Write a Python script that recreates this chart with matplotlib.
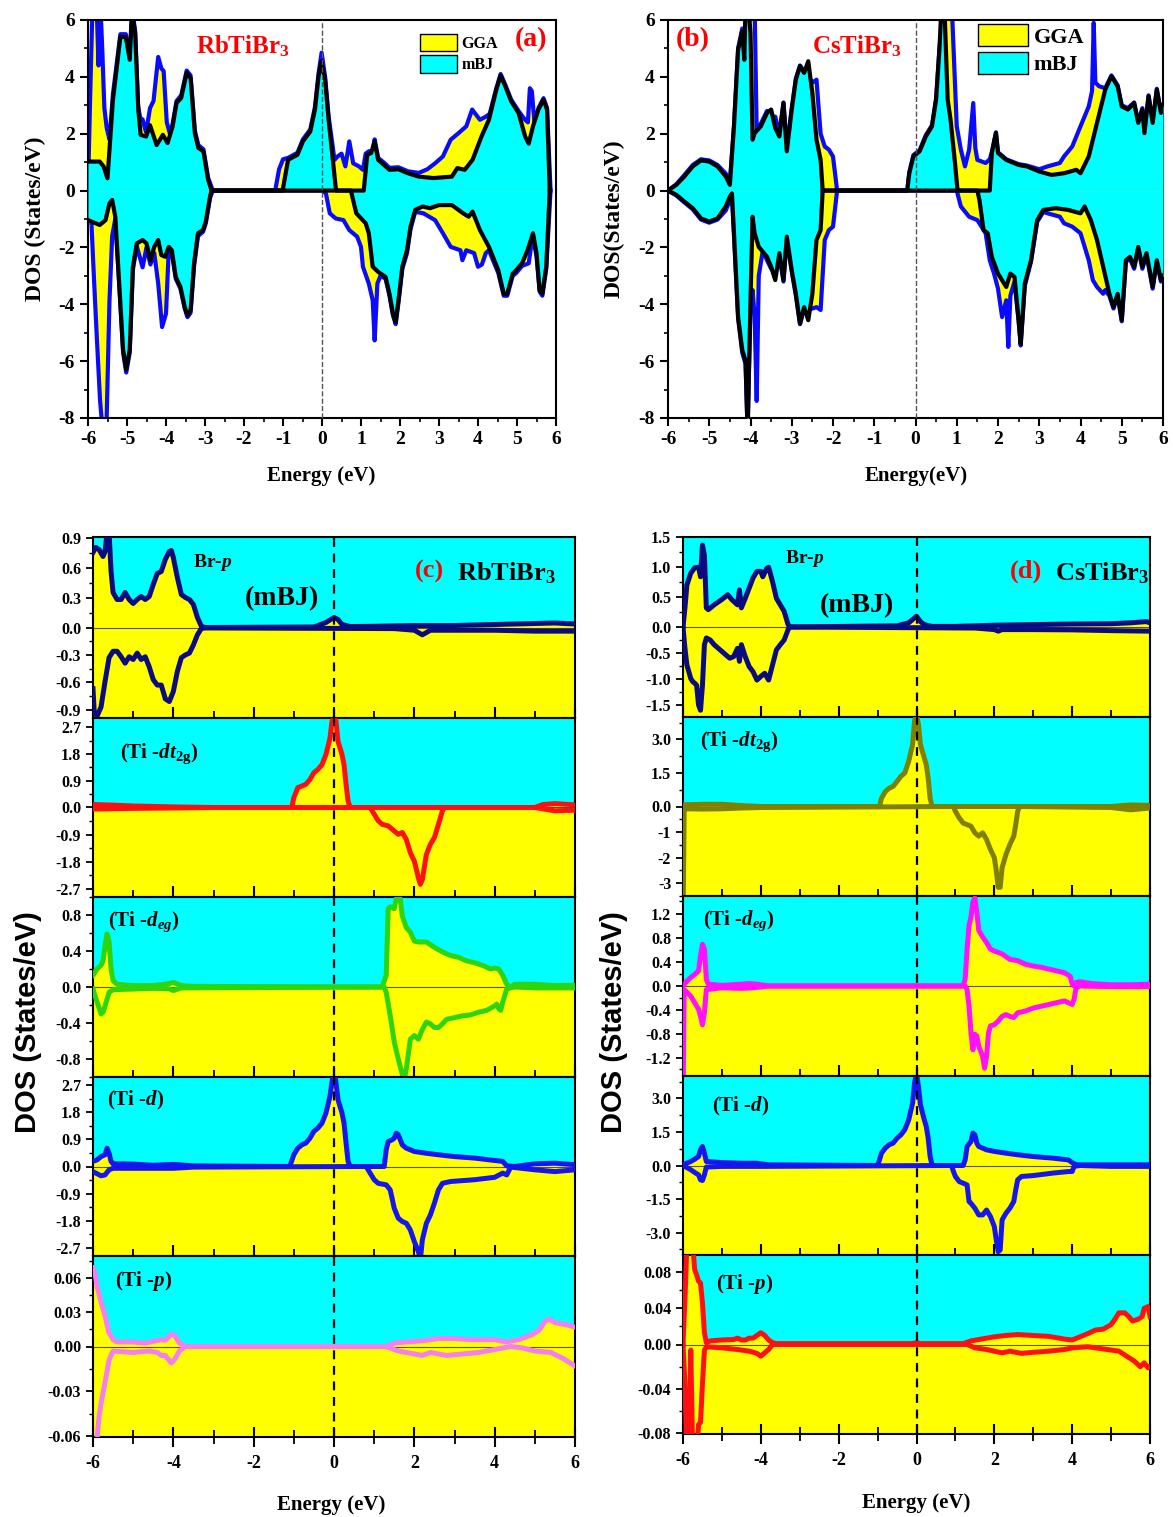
import numpy as np
import matplotlib
matplotlib.use("Agg")
import matplotlib.pyplot as plt
from matplotlib.ticker import MultipleLocator, FixedLocator, FormatStrFormatter
from matplotlib.patches import Patch

plt.rcParams["font.family"] = ["Liberation Serif", "DejaVu Serif"]
plt.rcParams["font.weight"] = "bold"
plt.rcParams["axes.unicode_minus"] = False
plt.rcParams["mathtext.fontset"] = "custom"
plt.rcParams["mathtext.rm"] = "Liberation Serif:bold"
plt.rcParams["mathtext.it"] = "Liberation Serif:italic:bold"
plt.rcParams["mathtext.bf"] = "Liberation Serif:bold"
plt.rcParams["axes.linewidth"] = 1.5

YELLOW = "#ffff00"
CYAN = "#00ffff"

# ---------------- total DOS, RbTiBr3 ----------------
a_mbj_up_x = [-6.0, -5.7, -5.6, -5.5, -5.36, -5.17, -5.03, -4.93, -4.87, -4.79, -4.71, -4.65, -4.51, -4.41, -4.24,
              -4.08, -3.96, -3.83, -3.73, -3.61, -3.47, -3.37, -3.26, -3.17, -3.04, -2.92, -2.83, -1.01, -0.87, -0.63,
              -0.49, -0.30, -0.18, -0.09, -0.02, 0.08, 0.17, 0.26, 0.36, 1.07, 1.16, 1.26, 1.35, 1.44, 1.59, 1.73, 1.96,
              2.20, 2.48, 2.86, 3.33, 3.47, 3.66, 3.86, 4.09, 4.28, 4.47, 4.58, 4.70, 4.85, 5.04, 5.21, 5.30, 5.41,
              5.55, 5.68, 5.77, 5.84]
a_mbj_up_y = [1.02, 1.02, 0.85, 0.43, 3.2, 5.4, 5.4, 4.6, 6.3, 5.5, 2.85, 1.96, 1.9, 2.3, 1.6, 1.96, 1.67, 2.26, 3.08,
              3.26, 4.14, 3.96, 2.02, 1.5, 1.38, 0.38, 0.0, 0.0, 1.08, 1.26, 1.73, 2.08, 2.85, 4.0, 4.55, 3.9, 2.49,
              1.32, 0.0, 0.0, 1.26, 1.32, 1.73, 1.08, 0.9, 0.73, 0.75, 0.61, 0.49, 0.44, 0.49, 0.79, 0.73, 1.08, 1.9,
              2.49, 3.55, 4.05, 3.67, 3.14, 2.73, 1.9, 1.65, 2.26, 2.85, 3.2, 2.85, 0.0]
a_mbj_dn_x = [-6.0, -5.7, -5.55, -5.45, -5.38, -5.3, -5.2, -5.1, -5.02, -4.93, -4.85, -4.75, -4.6, -4.5, -4.4, -4.3,
              -4.2, -4.12, -4.02, -3.93, -3.85, -3.75, -3.63, -3.52, -3.45, -3.37, -3.28, -3.18, -3.05, -2.98, -2.87,
              -2.83, 0.74, 0.88, 1.12, 1.2, 1.3, 1.44, 1.63, 1.73, 1.82, 1.89, 1.96, 2.06, 2.18, 2.27, 2.39, 2.58,
              2.77, 3.0, 3.33, 3.62, 3.76, 3.86, 4.05, 4.28, 4.52, 4.66, 4.75, 4.89, 4.98, 5.13, 5.27, 5.41, 5.5,
              5.58, 5.65, 5.75, 5.84]
a_mbj_dn_y = [-1.04, -1.21, -1.04, -0.45, -0.33, -0.92, -3.27, -5.6, -6.3, -5.6, -2.7, -1.86, -1.74, -1.86, -2.45,
              -1.98, -1.74, -2.27, -2.33, -1.98, -2.1, -3.04, -3.39, -4.09, -4.39, -4.21, -2.56, -1.5, -1.39, -1.09,
              -0.21, 0.0, 0.0, -0.8, -1.15, -1.5, -2.68, -2.86, -3.04, -3.63, -4.33, -4.62, -3.86, -2.68, -2.1, -1.27,
              -0.68, -0.56, -0.62, -0.51, -0.51, -0.8, -0.92, -0.74, -1.39, -1.98, -2.8, -3.63, -3.63, -2.92, -2.8,
              -2.56, -2.1, -1.5, -2.2, -3.5, -3.63, -2.68, 0.0]
a_gga_up_x = [-6.0, -5.95, -5.88, -5.84, -5.78, -5.73, -5.68, -5.63, -5.58, -5.52, -5.45, -5.36, -5.17, -5.03, -4.93,
              -4.87, -4.79, -4.72, -4.66, -4.6, -4.51, -4.41, -4.32, -4.2, -4.12, -4.06, -3.98, -3.9, -3.83, -3.73,
              -3.61, -3.47, -3.37, -3.26, -3.17, -3.04, -2.92, -2.8, -1.2, -1.1, -1.0, -0.87, -0.63, -0.49, -0.3,
              -0.18, -0.09, -0.01, 0.08, 0.17, 0.26, 0.32, 0.4, 0.5, 0.6, 0.7, 0.8, 0.95, 1.05, 1.12, 1.2, 1.3, 1.35,
              1.44, 1.59, 1.73, 1.96, 2.2, 2.48, 2.7, 2.9, 3.1, 3.3, 3.5, 3.7, 3.85, 3.95, 4.05, 4.2, 4.3, 4.47, 4.58,
              4.7, 4.85, 5.04, 5.2, 5.28, 5.33, 5.38, 5.45, 5.55, 5.68, 5.77, 5.86]
a_gga_up_y = [0.0, 3.0, 6.8, 7.0, 6.6, 4.4, 6.5, 4.8, 2.9, 2.2, 1.8, 3.4, 5.5, 5.5, 4.7, 6.4, 5.6, 3.0, 2.55, 2.5,
              2.05, 2.9, 3.15, 4.7, 4.3, 4.2, 2.4, 2.0, 2.35, 3.15, 3.35, 4.22, 4.05, 2.1, 1.6, 1.45, 0.45, 0.0, 0.0,
              0.75, 1.1, 1.15, 1.33, 1.8, 2.15, 2.95, 4.1, 4.85, 4.0, 2.6, 1.7, 1.08, 1.2, 1.3, 0.85, 1.73, 0.96,
              0.85, 0.73, 1.3, 1.38, 1.4, 1.8, 1.15, 0.98, 0.8, 0.82, 0.68, 0.62, 0.75, 0.96, 1.2, 1.79, 2.02, 2.26,
              2.85, 2.67, 2.49, 2.6, 2.7, 3.6, 4.1, 3.72, 3.2, 2.8, 2.5, 2.4, 3.6, 3.5, 2.35, 2.9, 3.25, 2.9, 0.0]
a_gga_dn_x = [-6.0, -5.92, -5.85, -5.78, -5.69, -5.62, -5.53, -5.45, -5.38, -5.3, -5.2, -5.1, -5.02, -4.93, -4.85,
              -4.75, -4.6, -4.5, -4.4, -4.3, -4.2, -4.1, -4.0, -3.93, -3.85, -3.75, -3.63, -3.52, -3.45, -3.37, -3.28,
              -3.18, -3.05, -2.98, -2.87, -2.8, 0.0, 0.1, 0.2, 0.35, 0.55, 0.7, 0.9, 1.0, 1.05, 1.2, 1.3, 1.35, 1.42,
              1.5, 1.63, 1.73, 1.82, 1.89, 1.96, 2.06, 2.18, 2.27, 2.39, 2.6, 2.9, 3.1, 3.3, 3.55, 3.6, 3.7, 3.9, 4.0,
              4.1, 4.2, 4.28, 4.52, 4.66, 4.75, 4.89, 4.98, 5.13, 5.3, 5.4, 5.5, 5.58, 5.65, 5.75, 5.86]
a_gga_dn_y = [-0.5, -0.9, -3.0, -5.0, -7.4, -8.5, -8.5, -3.9, -1.6, -1.0, -3.3, -5.7, -6.4, -5.7, -2.8, -1.95, -2.7,
              -2.0, -2.6, -2.2, -3.27, -4.8, -4.33, -2.1, -2.2, -3.1, -3.45, -4.15, -4.45, -4.3, -2.65, -1.6, -1.45,
              -1.15, -0.25, 0.0, 0.0, -0.1, -0.8, -0.98, -1.04, -1.39, -1.62, -1.98, -2.68, -3.27, -3.86, -5.27, -3.27,
              -3.0, -3.1, -3.7, -4.4, -4.7, -3.95, -2.75, -2.2, -1.35, -0.75, -0.8, -1.04, -1.5, -1.98, -2.1, -2.45,
              -2.1, -2.2, -2.68, -2.6, -2.2, -2.1, -2.9, -3.7, -3.7, -3.0, -2.9, -2.65, -2.56, -1.6, -2.3, -3.55,
              -3.7, -2.75, 0.0]

# ---------------- total DOS, CsTiBr3 ----------------
b_mbj_up_x = [-6.0, -5.8, -5.6, -5.4, -5.2, -5.0, -4.8, -4.6, -4.5, -4.4, -4.3, -4.2, -4.15, -4.12, -4.05, -4.0,
              -3.95, -3.9, -3.75, -3.6, -3.5, -3.4, -3.3, -3.2, -3.12, -3.0, -2.9, -2.8, -2.7, -2.6, -2.5, -2.4, -2.3,
              -2.25, -0.2, -0.15, -0.05, 0.1, 0.25, 0.4, 0.5, 0.58, 0.63, 0.7, 0.78, 0.85, 0.95, 1.02, 1.8, 1.85,
              1.95, 2.0, 2.2, 2.5, 2.7, 3.0, 3.3, 3.6, 3.9, 4.0, 4.2, 4.4, 4.6, 4.75, 4.9, 5.0, 5.15, 5.3, 5.4, 5.5,
              5.55, 5.65, 5.75, 5.85, 5.95, 6.0]
b_mbj_up_y = [0.0, 0.2, 0.5, 0.85, 1.06, 1.02, 0.85, 0.5, 0.2, 2.26, 4.96, 5.6, 4.6, 6.5, 6.5, 5.55, 1.79, 2.02, 2.26,
              2.73, 2.85, 2.2, 1.9, 3.08, 1.38, 2.85, 3.9, 4.38, 4.14, 4.55, 3.43, 1.79, 1.08, 0.0, 0.0, 0.61, 1.2,
              1.38, 1.9, 2.26, 3.2, 4.96, 6.5, 6.5, 3.2, 2.49, 1.08, 0.0, 0.0, 1.32, 2.02, 1.32, 1.08, 0.9, 0.85, 0.67,
              0.55, 0.61, 0.73, 0.61, 1.2, 2.38, 3.55, 4.02, 3.67, 2.96, 2.85, 3.08, 2.38, 2.85, 2.02, 3.32, 2.38,
              3.55, 2.73, 3.0]
b_mbj_dn_x = [-6.0, -5.8, -5.6, -5.4, -5.2, -5.0, -4.8, -4.6, -4.5, -4.45, -4.4, -4.3, -4.2, -4.12, -4.07, -4.0,
              -3.95, -3.9, -3.8, -3.6, -3.5, -3.4, -3.3, -3.2, -3.12, -3.0, -2.9, -2.8, -2.7, -2.6, -2.5, -2.4, -2.3,
              -2.25, 1.5, 1.55, 1.65, 1.75, 1.85, 2.0, 2.2, 2.3, 2.4, 2.5, 2.55, 2.65, 2.8, 2.95, 3.1, 3.4, 3.7, 4.0,
              4.1, 4.25, 4.4, 4.55, 4.7, 4.8, 4.9, 5.0, 5.1, 5.2, 5.3, 5.4, 5.5, 5.6, 5.75, 5.85, 5.95, 6.0]
b_mbj_dn_y = [0.0, -0.15, -0.39, -0.62, -0.98, -1.09, -0.98, -0.56, -0.21, -0.1, -1.5, -4.45, -5.6, -6.0, -8.5,
              -3.86, -0.92, -1.5, -1.98, -2.33, -2.68, -3.15, -2.2, -3.15, -1.62, -2.8, -3.63, -4.68, -4.1, -4.56,
              -3.63, -1.74, -1.39, 0.0, 0.0, -0.33, -1.39, -1.5, -2.33, -2.92, -3.39, -2.92, -3.04, -4.56, -5.39,
              -3.27, -2.45, -1.04, -0.68, -0.62, -0.68, -0.8, -0.56, -1.04, -1.74, -2.68, -3.63, -4.1, -3.63, -4.56,
              -2.45, -2.33, -2.68, -1.98, -2.68, -2.2, -3.39, -2.45, -3.15, -3.0]
b_gga_up_x = [-6.0, -5.8, -5.6, -5.4, -5.2, -5.0, -4.8, -4.6, -4.5, -4.4, -4.3, -4.2, -4.15, -4.1, -4.0, -3.95, -3.9,
              -3.85, -3.8, -3.6, -3.5, -3.4, -3.3, -3.2, -3.12, -3.0, -2.9, -2.8, -2.7, -2.6, -2.5, -2.4, -2.3, -2.2,
              -2.1, -2.0, -1.9, -0.2, -0.15, -0.05, 0.1, 0.25, 0.4, 0.5, 0.58, 0.7, 0.8, 0.88, 1.0, 1.1, 1.2, 1.3,
              1.4, 1.45, 1.5, 1.7, 1.8, 1.85, 1.95, 2.0, 2.2, 2.5, 2.7, 3.0, 3.2, 3.5, 3.6, 3.8, 4.0, 4.2, 4.28, 4.32,
              4.36, 4.45, 4.6, 4.75, 4.9, 5.0, 5.15, 5.3, 5.4, 5.5, 5.55, 5.65, 5.75, 5.85, 5.95, 6.0]
b_gga_up_y = [0.0, 0.22, 0.55, 0.9, 1.1, 1.06, 0.9, 0.6, 0.3, 2.3, 5.0, 5.7, 4.7, 6.5, 6.5, 6.5, 6.5, 2.1, 2.2, 2.8,
              2.6, 2.6, 2.0, 3.1, 1.5, 2.9, 3.95, 4.4, 4.2, 4.0, 3.8, 3.9, 2.0, 1.55, 1.44, 1.2, 0.0, 0.0, 0.65, 1.25,
              1.42, 1.95, 2.3, 3.25, 5.0, 6.5, 6.5, 6.5, 2.26, 1.44, 0.85, 1.44, 3.08, 1.5, 1.08, 0.97, 1.1, 1.35,
              2.05, 1.35, 1.1, 0.93, 0.88, 0.75, 0.85, 0.97, 1.2, 1.55, 2.26, 2.96, 3.5, 5.9, 3.8, 3.67, 3.6, 4.05,
              3.7, 3.0, 2.9, 3.1, 2.4, 2.9, 2.05, 3.35, 2.4, 3.58, 2.75, 3.0]
b_gga_dn_x = [-6.0, -5.8, -5.6, -5.4, -5.2, -5.0, -4.8, -4.6, -4.5, -4.45, -4.4, -4.3, -4.2, -4.12, -4.07, -4.0,
              -3.95, -3.9, -3.85, -3.8, -3.7, -3.6, -3.5, -3.4, -3.3, -3.2, -3.12, -3.0, -2.9, -2.8, -2.7, -2.6, -2.5,
              -2.4, -2.3, -2.2, -2.1, -2.0, -1.9, 1.0, 1.1, 1.3, 1.5, 1.7, 1.8, 1.9, 2.0, 2.1, 2.2, 2.25, 2.3, 2.4,
              2.5, 2.55, 2.65, 2.8, 2.95, 3.1, 3.2, 3.5, 3.6, 3.8, 4.0, 4.2, 4.3, 4.4, 4.55, 4.6, 4.7, 4.8, 4.9, 5.0,
              5.1, 5.2, 5.3, 5.4, 5.5, 5.6, 5.75, 5.85, 5.95, 6.0]
b_gga_dn_y = [0.0, -0.17, -0.42, -0.66, -1.02, -1.13, -1.02, -0.7, -0.35, -0.2, -1.6, -4.5, -5.7, -6.1, -8.5, -4.0,
              -3.5, -4.4, -7.4, -3.0, -2.1, -2.45, -2.75, -2.9, -2.3, -3.2, -1.7, -2.85, -3.7, -4.7, -4.15, -4.2,
              -4.15, -4.1, -4.2, -1.74, -1.39, -1.27, 0.0, 0.0, -0.56, -0.92, -1.04, -1.5, -2.45, -2.9, -3.45, -4.45,
              -3.86, -5.5, -3.7, -3.2, -4.6, -5.45, -3.35, -2.5, -1.1, -0.75, -0.8, -0.92, -1.15, -1.27, -1.5, -2.45,
              -3.15, -3.39, -3.63, -3.5, -3.7, -4.15, -3.7, -4.6, -2.5, -2.4, -2.75, -2.05, -2.75, -2.25, -3.45,
              -2.5, -3.2, -3.05]

# ---------------- partial DOS (mBJ), RbTiBr3 ----------------
c_brp_up_x = [-6.0, -5.93, -5.85, -5.75, -5.7, -5.65, -5.6, -5.55, -5.5, -5.4, -5.3, -5.2, -5.1, -5.0, -4.9, -4.8,
              -4.7, -4.6, -4.5, -4.4, -4.3, -4.2, -4.1, -4.05, -4.0, -3.9, -3.8, -3.7, -3.6, -3.5, -3.4, -3.3, -3.2,
              -0.5, -0.2, 0.0, 0.1, 0.2, 0.4, 1.0, 2.0, 3.0, 4.0, 5.0, 5.5, 6.0]
c_brp_up_y = [0.75, 0.8, 0.78, 0.71, 0.76, 0.95, 0.95, 0.56, 0.35, 0.28, 0.28, 0.35, 0.28, 0.24, 0.28, 0.31, 0.28,
              0.31, 0.43, 0.54, 0.56, 0.68, 0.76, 0.77, 0.7, 0.5, 0.33, 0.3, 0.28, 0.23, 0.1, 0.01, 0.0, 0.005, 0.05,
              0.1, 0.08, 0.03, 0.01, 0.012, 0.02, 0.02, 0.03, 0.04, 0.045, 0.035]
c_brp_dn_x = [-6.0, -5.97, -5.9, -5.8, -5.7, -5.6, -5.5, -5.4, -5.3, -5.2, -5.1, -5.0, -4.9, -4.8, -4.7, -4.6, -4.5,
              -4.4, -4.3, -4.2, -4.1, -4.0, -3.9, -3.8, -3.7, -3.6, -3.5, -3.4, -3.3, -3.2, 1.5, 2.0, 2.2, 2.4, 3.0,
              4.0, 5.0, 6.0]
c_brp_dn_y = [-0.67, -0.92, -0.97, -0.87, -0.59, -0.33, -0.26, -0.26, -0.32, -0.39, -0.32, -0.35, -0.28, -0.35,
              -0.32, -0.43, -0.57, -0.63, -0.63, -0.78, -0.81, -0.7, -0.48, -0.33, -0.3, -0.28, -0.19, -0.08, -0.01,
              -0.005, -0.012, -0.03, -0.08, -0.03, -0.03, -0.03, -0.04, -0.04]
c_t2g_up_x = [-6.0, -5.5, -5.0, -4.0, -3.0, -1.05, -1.0, -0.9, -0.8, -0.7, -0.6, -0.5, -0.4, -0.3, -0.2, -0.1, -0.05,
              0.0, 0.05, 0.1, 0.2, 0.25, 0.3, 0.35, 0.4, 5.0, 5.2, 5.5, 6.0]
c_t2g_up_y = [0.1, 0.08, 0.05, 0.02, 0.0, 0.0, 0.33, 0.67, 0.72, 0.78, 0.94, 1.17, 1.28, 1.44, 1.78, 2.33, 2.9, 3.05,
              2.9, 2.22, 1.78, 1.44, 0.78, 0.22, 0.0, 0.0, 0.1, 0.13, 0.09]
c_t2g_dn_x = [-6.0, -5.0, -3.0, 0.9, 1.0, 1.1, 1.2, 1.35, 1.5, 1.6, 1.7, 1.8, 1.9, 2.0, 2.1, 2.15, 2.2, 2.3, 2.4, 2.5,
              2.6, 2.7, 2.75, 5.0, 5.5, 6.0]
c_t2g_dn_y = [-0.05, -0.03, 0.0, 0.0, -0.22, -0.44, -0.56, -0.61, -0.78, -0.89, -0.83, -1.06, -1.5, -1.78, -2.33,
              -2.55, -2.39, -1.56, -1.22, -1.0, -0.56, -0.11, 0.0, 0.0, -0.11, -0.09]
c_eg_up_x = [-6.0, -5.9, -5.8, -5.75, -5.7, -5.65, -5.6, -5.55, -5.5, -5.4, -5.0, -4.5, -4.2, -4.0, -3.8, -3.5, 1.2,
             1.3, 1.35, 1.4, 1.5, 1.55, 1.6, 1.65, 1.7, 1.8, 1.9, 2.0, 2.1, 2.3, 2.5, 2.7, 2.9, 3.1, 3.3, 3.5, 3.7,
             3.9, 4.0, 4.1, 4.2, 4.3, 4.4, 4.5, 5.0, 5.5, 6.0]
c_eg_up_y = [0.13, 0.2, 0.24, 0.29, 0.46, 0.59, 0.5, 0.2, 0.07, 0.03, 0.015, 0.015, 0.03, 0.05, 0.015, 0.007, 0.0,
             0.13, 0.87, 0.89, 0.87, 0.98, 1.02, 0.98, 0.79, 0.66, 0.61, 0.51, 0.5, 0.5, 0.44, 0.39, 0.35, 0.33, 0.29,
             0.27, 0.24, 0.2, 0.21, 0.2, 0.13, 0.03, 0.0, 0.03, 0.03, 0.015, 0.02]
c_eg_dn_x = [-6.0, -5.95, -5.85, -5.8, -5.75, -5.7, -5.6, -5.5, -4.5, -4.1, -4.0, -3.8, 1.25, 1.3, 1.4, 1.5, 1.6, 1.7,
             1.75, 1.8, 1.9, 2.0, 2.1, 2.2, 2.3, 2.4, 2.5, 2.6, 2.7, 2.8, 3.0, 3.2, 3.4, 3.6, 3.8, 4.0, 4.05, 4.1,
             4.15, 4.2, 4.3, 4.5, 5.0, 6.0]
c_eg_dn_y = [-0.02, -0.1, -0.23, -0.3, -0.28, -0.21, -0.06, -0.03, -0.015, -0.02, -0.04, -0.01, 0.0, -0.06, -0.32,
             -0.61, -0.8, -0.97, -1.02, -0.91, -0.58, -0.54, -0.58, -0.47, -0.39, -0.41, -0.45, -0.45, -0.41, -0.36,
             -0.34, -0.32, -0.31, -0.28, -0.26, -0.21, -0.19, -0.24, -0.26, -0.17, -0.02, 0.0, -0.01, -0.01]
c_d_up_x = [-6.0, -5.9, -5.8, -5.7, -5.65, -5.6, -5.55, -5.5, -5.0, -4.5, -4.0, -3.5, -1.1, -1.0, -0.9, -0.8, -0.7,
            -0.6, -0.5, -0.4, -0.3, -0.2, -0.1, -0.03, 0.03, 0.1, 0.2, 0.25, 0.3, 0.35, 0.4, 1.25, 1.3, 1.35, 1.45,
            1.5, 1.55, 1.6, 1.7, 1.8, 2.0, 2.3, 2.6, 3.0, 3.5, 4.0, 4.2, 4.3, 4.5, 5.0, 5.5, 6.0]
c_d_up_y = [0.17, 0.22, 0.33, 0.39, 0.61, 0.44, 0.17, 0.09, 0.08, 0.04, 0.07, 0.02, 0.0, 0.39, 0.61, 0.72, 0.78,
            0.94, 1.17, 1.28, 1.44, 1.78, 2.33, 3.0, 3.0, 2.22, 1.78, 1.44, 0.78, 0.17, 0.0, 0.0, 0.56, 0.83, 0.89,
            0.94, 1.11, 1.06, 0.72, 0.61, 0.5, 0.44, 0.39, 0.33, 0.28, 0.2, 0.17, 0.02, 0.0, 0.09, 0.11, 0.06]
c_d_dn_x = [-6.0, -5.8, -5.7, -5.6, -5.5, -4.0, -3.5, 0.8, 0.9, 1.0, 1.1, 1.3, 1.4, 1.5, 1.6, 1.7, 1.8, 1.9, 2.0,
            2.1, 2.15, 2.2, 2.3, 2.4, 2.5, 2.6, 2.7, 2.9, 3.5, 4.0, 4.2, 4.3, 4.4, 5.0, 5.5, 6.0]
c_d_dn_y = [-0.17, -0.31, -0.28, -0.11, -0.06, -0.06, -0.02, 0.0, -0.22, -0.44, -0.56, -0.61, -0.78, -1.39, -1.72,
            -1.83, -1.89, -2.11, -2.5, -2.83, -3.1, -2.44, -1.89, -1.61, -1.22, -0.78, -0.56, -0.5, -0.44, -0.36,
            -0.22, -0.28, -0.02, -0.11, -0.17, -0.11]
c_p_up_x = [-6.0, -5.95, -5.9, -5.8, -5.7, -5.65, -5.6, -5.5, -5.4, -5.0, -4.7, -4.5, -4.3, -4.2, -4.05, -3.95,
            -3.85, -3.7, 1.3, 1.5, 1.8, 2.2, 2.6, 3.0, 3.4, 3.8, 4.0, 4.3, 4.6, 4.9, 5.1, 5.25, 5.35, 5.5, 5.8, 6.0]
c_p_up_y = [0.069, 0.065, 0.053, 0.039, 0.027, 0.019, 0.012, 0.006, 0.004, 0.004, 0.003, 0.0045, 0.006, 0.0055,
            0.011, 0.009, 0.003, 0.0, 0.0, 0.003, 0.004, 0.005, 0.007, 0.007, 0.006, 0.006, 0.006, 0.004, 0.006,
            0.01, 0.014, 0.022, 0.024, 0.021, 0.019, 0.017]
c_p_dn_x = [-6.0, -5.95, -5.9, -5.85, -5.8, -5.7, -5.6, -5.5, -5.0, -4.6, -4.4, -4.3, -4.2, -4.05, -3.95, -3.85, -3.7,
            1.3, 1.6, 2.0, 2.2, 2.4, 2.8, 3.2, 3.6, 4.0, 4.4, 4.7, 5.0, 5.4, 5.7, 6.0]
c_p_dn_y = [-0.08, -0.065, -0.062, -0.047, -0.038, -0.024, -0.009, -0.003, -0.004, -0.003, -0.004, -0.006, -0.006,
            -0.011, -0.008, -0.003, 0.0, 0.0, -0.003, -0.005, -0.006, -0.004, -0.006, -0.005, -0.004, -0.002, 0.0,
            -0.001, -0.003, -0.004, -0.008, -0.013]

# ---------------- partial DOS (mBJ), CsTiBr3 ----------------
d_brp_up_x = [-6.0, -5.95, -5.9, -5.8, -5.7, -5.6, -5.55, -5.5, -5.45, -5.4, -5.35, -5.2, -5.0, -4.85, -4.75, -4.6,
              -4.55, -4.5, -4.4, -4.3, -4.2, -4.1, -4.0, -3.95, -3.85, -3.8, -3.7, -3.6, -3.5, -3.4, -3.3, -3.25,
              -0.5, -0.2, 0.0, 0.1, 0.2, 0.4, 1.0, 2.0, 3.0, 4.0, 5.0, 5.5, 5.9, 6.0]
d_brp_up_y = [0.0, 0.32, 0.7, 0.9, 0.99, 1.0, 0.84, 1.37, 1.2, 0.32, 0.29, 0.37, 0.46, 0.54, 0.46, 0.37, 0.62, 0.32,
              0.48, 0.65, 0.82, 0.93, 0.93, 0.84, 0.98, 1.0, 0.76, 0.48, 0.37, 0.26, 0.04, 0.0, 0.02, 0.07, 0.18,
              0.09, 0.04, 0.01, 0.01, 0.03, 0.04, 0.05, 0.055, 0.07, 0.09, 0.07]
d_brp_dn_x = [-6.0, -5.95, -5.9, -5.8, -5.75, -5.7, -5.65, -5.6, -5.55, -5.5, -5.45, -5.4, -5.3, -5.2, -5.0, -4.8,
              -4.7, -4.6, -4.55, -4.5, -4.4, -4.3, -4.2, -4.1, -4.0, -3.9, -3.8, -3.7, -3.6, -3.5, -3.4, -3.3, -3.25,
              1.5, 2.0, 2.1, 2.2, 3.0, 4.0, 5.0, 6.0]
d_brp_dn_y = [0.0, -0.41, -0.73, -0.99, -1.05, -1.08, -1.12, -1.5, -1.6, -1.12, -0.34, -0.21, -0.25, -0.34, -0.47,
              -0.6, -0.57, -0.41, -0.66, -0.34, -0.57, -0.76, -0.86, -1.02, -0.95, -0.89, -1.02, -0.73, -0.44, -0.34,
              -0.25, -0.05, 0.0, -0.02, -0.05, -0.08, -0.05, -0.05, -0.055, -0.07, -0.08]
d_t2g_up_x = [-6.0, -5.5, -5.0, -4.5, -4.0, -0.95, -0.9, -0.8, -0.7, -0.6, -0.5, -0.4, -0.3, -0.2, -0.1, -0.05, 0.0,
              0.05, 0.1, 0.2, 0.25, 0.3, 0.35, 0.4, 5.0, 5.5, 6.0]
d_t2g_up_y = [0.07, 0.1, 0.1, 0.04, 0.0, 0.0, 0.37, 0.67, 0.82, 0.9, 1.12, 1.35, 1.5, 2.02, 2.77, 3.82, 4.1, 3.67,
              2.77, 2.17, 1.87, 1.27, 0.37, 0.0, 0.0, 0.07, 0.05]
d_t2g_dn_x = [-6.0, -5.97, -5.9, -5.5, -5.0, -4.5, -4.0, 0.95, 1.0, 1.1, 1.2, 1.3, 1.4, 1.5, 1.6, 1.7, 1.8, 1.9,
              2.0, 2.05, 2.1, 2.15, 2.2, 2.3, 2.4, 2.5, 2.55, 2.6, 2.65, 5.0, 5.5, 6.0]
d_t2g_dn_y = [-5.0, -0.09, -0.09, -0.1, -0.09, -0.06, -0.04, 0.0, -0.19, -0.45, -0.65, -0.71, -0.77, -1.03, -1.16,
              -1.03, -1.29, -1.68, -2.0, -2.52, -3.16, -3.16, -2.39, -1.87, -1.48, -1.16, -0.71, -0.19, 0.0, -0.04,
              -0.13, -0.06]
d_eg_up_x = [-6.0, -5.9, -5.8, -5.7, -5.6, -5.55, -5.5, -5.45, -5.4, -5.35, -5.0, -4.5, -4.3, -4.1, -3.8, 1.2, 1.25,
             1.3, 1.35, 1.4, 1.45, 1.5, 1.55, 1.6, 1.7, 1.8, 1.9, 2.0, 2.2, 2.4, 2.6, 2.8, 3.0, 3.2, 3.4, 3.6, 3.8,
             3.95, 4.0, 4.05, 4.1, 4.2, 4.5, 5.0, 5.5, 6.0]
d_eg_up_y = [0.0, 0.08, 0.14, 0.19, 0.25, 0.5, 0.69, 0.61, 0.11, 0.03, 0.01, 0.03, 0.04, 0.03, 0.0, 0.0, 0.11, 0.61,
             1.0, 1.14, 1.39, 1.46, 1.22, 0.92, 0.81, 0.72, 0.61, 0.58, 0.53, 0.44, 0.42, 0.36, 0.33, 0.31, 0.28,
             0.25, 0.22, 0.16, 0.03, 0.0, 0.06, 0.07, 0.04, 0.02, 0.02, 0.03]
d_eg_dn_x = [-6.0, -5.97, -5.8, -5.7, -5.6, -5.55, -5.5, -5.45, -5.4, -5.0, -4.5, -4.2, -3.8, 1.25, 1.3, 1.35, 1.4,
             1.45, 1.5, 1.55, 1.6, 1.7, 1.75, 1.8, 1.85, 1.9, 2.0, 2.1, 2.2, 2.3, 2.4, 2.5, 2.6, 2.8, 3.0, 3.2, 3.4,
             3.6, 3.8, 3.9, 4.0, 4.05, 4.1, 4.2, 5.0, 6.0]
d_eg_dn_y = [-2.0, -0.06, -0.17, -0.28, -0.39, -0.51, -0.65, -0.45, -0.06, -0.03, -0.04, -0.03, 0.0, 0.0, -0.06,
             -0.34, -0.79, -1.07, -0.81, -0.84, -1.01, -1.18, -1.38, -1.18, -0.79, -0.67, -0.65, -0.59, -0.51, -0.48,
             -0.51, -0.53, -0.45, -0.42, -0.37, -0.34, -0.31, -0.28, -0.25, -0.28, -0.31, -0.22, -0.03, 0.0, -0.01,
             -0.01]
d_d_up_x = [-6.0, -5.8, -5.7, -5.6, -5.55, -5.5, -5.45, -5.4, -5.0, -4.5, -4.1, -3.8, -1.0, -0.95, -0.9, -0.8, -0.7,
            -0.6, -0.5, -0.4, -0.3, -0.2, -0.1, -0.05, 0.0, 0.05, 0.1, 0.2, 0.25, 0.3, 0.35, 0.4, 1.2, 1.25, 1.3,
            1.4, 1.45, 1.5, 1.55, 1.6, 1.8, 2.0, 2.3, 2.6, 3.0, 3.5, 3.9, 4.0, 4.1, 5.0, 6.0]
d_d_up_y = [0.03, 0.18, 0.28, 0.4, 0.7, 0.85, 0.55, 0.18, 0.13, 0.1, 0.1, 0.03, 0.0, 0.25, 0.55, 0.78, 0.93, 1.0,
            1.22, 1.37, 1.6, 2.04, 2.79, 3.69, 4.1, 3.54, 2.72, 2.04, 1.75, 1.22, 0.4, 0.0, 0.0, 0.25, 0.85, 1.07,
            1.45, 1.37, 1.0, 0.85, 0.7, 0.63, 0.55, 0.48, 0.4, 0.33, 0.25, 0.13, 0.03, 0.03, 0.03]
d_d_dn_x = [-6.0, -5.8, -5.7, -5.6, -5.55, -5.5, -5.45, -5.4, -5.0, -4.0, 0.9, 0.95, 1.0, 1.1, 1.2, 1.3, 1.35, 1.4,
            1.5, 1.6, 1.7, 1.8, 1.9, 2.0, 2.05, 2.1, 2.15, 2.2, 2.3, 2.4, 2.5, 2.55, 2.6, 2.7, 3.0, 3.5, 3.9, 4.0,
            4.05, 4.2, 5.0, 6.0]
d_d_dn_y = [0.0, -0.19, -0.31, -0.42, -0.64, -0.67, -0.42, -0.07, -0.04, -0.04, 0.0, -0.27, -0.49, -0.72, -0.79,
            -0.87, -1.61, -1.69, -1.91, -2.21, -2.21, -1.99, -2.28, -2.73, -3.33, -3.85, -3.78, -2.43, -2.13, -1.91,
            -1.61, -1.09, -0.64, -0.49, -0.45, -0.34, -0.27, -0.27, -0.04, 0.0, -0.04, -0.04]
d_p_up_x = [-6.0, -5.95, -5.9, -5.8, -5.75, -5.7, -5.65, -5.6, -5.55, -5.5, -5.45, -5.4, -5.3, -5.0, -4.7, -4.6,
            -4.5, -4.4, -4.3, -4.2, -4.1, -4.0, -3.9, -3.8, -3.7, -3.6, -0.1, 0.0, 0.1, 1.2, 1.4, 1.6, 1.8, 2.0, 2.3,
            2.6, 3.0, 3.4, 3.8, 4.0, 4.2, 4.4, 4.6, 4.8, 5.0, 5.1, 5.2, 5.35, 5.45, 5.55, 5.7, 5.8, 5.85, 5.95, 6.0]
d_p_up_y = [0.0, 0.05, 0.11, 0.11, 0.11, 0.083, 0.077, 0.07, 0.068, 0.046, 0.013, 0.002, 0.004, 0.005, 0.0055,
            0.007, 0.005, 0.005, 0.007, 0.007, 0.01, 0.013, 0.01, 0.005, 0.002, 0.001, 0.001, 0.002, 0.001, 0.001,
            0.004, 0.0055, 0.007, 0.0085, 0.01, 0.011, 0.01, 0.009, 0.006, 0.005, 0.0085, 0.012, 0.016, 0.017,
            0.022, 0.028, 0.035, 0.035, 0.031, 0.026, 0.028, 0.031, 0.04, 0.042, 0.031]
d_p_dn_x = [-6.0, -5.95, -5.9, -5.85, -5.8, -5.75, -5.65, -5.6, -5.55, -5.5, -5.45, -5.4, -5.0, -4.6, -4.3, -4.1,
            -4.0, -3.9, -3.8, -3.7, 1.3, 1.5, 1.8, 2.0, 2.2, 2.4, 2.7, 3.0, 3.4, 3.8, 4.0, 4.4, 4.8, 5.0, 5.2, 5.4,
            5.6, 5.75, 5.85, 5.95, 6.0]
d_p_dn_y = [0.0, -0.035, -0.1, -0.1, -0.005, -0.1, -0.1, -0.072, -0.07, -0.035, -0.005, -0.002, -0.003, -0.0045,
            -0.006, -0.008, -0.0105, -0.0075, -0.0045, 0.0, 0.0, -0.003, -0.0045, -0.006, -0.0075, -0.006, -0.008,
            -0.007, -0.006, -0.0045, -0.003, -0.002, -0.004, -0.005, -0.006, -0.0105, -0.015, -0.02, -0.0165,
            -0.021, -0.02]

W, H = 1173, 1517
fig = plt.figure(figsize=(W / 100, H / 100), dpi=100)


def box(left, top, right, bottom):
    return [left / W, 1 - bottom / H, (right - left) / W, (bottom - top) / H]


def total_dos(ax, gga, mbj):
    for x, y in gga:
        ax.fill_between(x, 0, y, color=YELLOW, lw=0, zorder=1)
        ax.plot(x, y, color="#0a0aff", lw=3, zorder=2)
    for x, y in mbj:
        ax.fill_between(x, 0, y, color=CYAN, lw=0, zorder=3)
        ax.plot(x, y, color="black", lw=3, zorder=4)
    ax.axvline(0, color="#555555", ls="--", lw=1, zorder=5)
    ax.set_xlim(-6, 6)
    ax.set_ylim(-8, 6)
    ax.xaxis.set_major_locator(MultipleLocator(1))
    ax.xaxis.set_minor_locator(MultipleLocator(0.5))
    ax.yaxis.set_major_locator(MultipleLocator(2))
    ax.yaxis.set_minor_locator(MultipleLocator(1))
    ax.tick_params(which="major", direction="out", length=6, width=1.5, labelsize=14)
    ax.tick_params(which="minor", direction="out", length=3, width=1.2)


def legend_boxes(ax, anchor, size, hl, hh, gap):
    ax.legend(handles=[Patch(facecolor=YELLOW, edgecolor="black", lw=1, label="GGA"),
                       Patch(facecolor=CYAN, edgecolor="black", lw=1, label="mBJ")],
              loc="upper left", bbox_to_anchor=anchor, frameon=False, fontsize=size,
              handlelength=hl, handleheight=hh, handletextpad=0.25, labelspacing=gap, borderpad=0,
              borderaxespad=0)


# (a) RbTiBr3 total DOS
ax_a = fig.add_axes(box(88, 20, 556, 418))
total_dos(ax_a, [(a_gga_up_x, a_gga_up_y), (a_gga_dn_x, a_gga_dn_y)],
          [(a_mbj_up_x, a_mbj_up_y), (a_mbj_dn_x, a_mbj_dn_y)])
ax_a.text(0.331, 0.935, r"RbTiBr$_3$", color="red", fontsize=18, ha="center", va="center", transform=ax_a.transAxes)
ax_a.text(0.947, 0.95, "(a)", color="red", fontsize=20, ha="center", va="center", transform=ax_a.transAxes)
legend_boxes(ax_a, (0.709, 0.965), 11.5, 2.35, 1.3, 0.2)
fig.text(35 / W, 1 - 219 / H, "DOS (States/eV)", rotation=90, fontsize=17, ha="center", va="center")
fig.text(321 / W, 1 - 476 / H, "Energy (eV)", fontsize=15, ha="center", va="center")

# (b) CsTiBr3 total DOS
ax_b = fig.add_axes(box(668, 20, 1163, 418))
total_dos(ax_b, [(b_gga_up_x, b_gga_up_y), (b_gga_dn_x, b_gga_dn_y)],
          [(b_mbj_up_x, b_mbj_up_y), (b_mbj_dn_x, b_mbj_dn_y)])
ax_b.text(0.015, 0.95, "(b)", color="red", fontsize=20, ha="left", va="center", transform=ax_b.transAxes)
ax_b.text(0.382, 0.935, r"CsTiBr$_3$", color="red", fontsize=18, ha="center", va="center", transform=ax_b.transAxes)
legend_boxes(ax_b, (0.626, 0.99), 16, 2.25, 1.15, 0.18)
fig.text(614 / W, 1 - 219 / H, "DOS(States/eV)", rotation=90, fontsize=17, ha="center", va="center")
fig.text(916 / W, 1 - 476 / H, "Energy(eV)", fontsize=15, ha="center", va="center")


def split_scale(top, bot):
    # spin-up and spin-down halves each fill half of the panel height
    def fwd(y):
        y = np.asarray(y, dtype=float)
        return np.where(y >= 0, y / top, y / -bot)

    def inv(u):
        u = np.asarray(u, dtype=float)
        return np.where(u >= 0, u * top, u * -bot)
    return fwd, inv


def pdos(ax, up, dn, color, top, bot, ticks, fmt, last=False, labels=None):
    ax.set_yscale("function", functions=split_scale(top, bot))
    ax.set_xlim(-6, 6)
    ax.set_ylim(bot, top)
    ax.axhspan(0, top, color=CYAN, lw=0, zorder=0)
    ax.axhspan(bot, 0, color=YELLOW, lw=0, zorder=0)
    ax.fill_between(up[0], 0, up[1], color=YELLOW, lw=0, zorder=1)
    ax.axhline(0, color="#555533", lw=0.8, zorder=2)
    ax.plot(up[0], up[1], color=color, lw=3.6, zorder=3)
    ax.plot(dn[0], dn[1], color=color, lw=3.6, zorder=3)
    ax.axvline(0, color="black", ls=(0, (4, 3)), lw=1.6, zorder=4)
    ax.yaxis.set_major_locator(FixedLocator(ticks))
    step = ticks[1] - ticks[0]
    ax.yaxis.set_minor_locator(MultipleLocator(step / 2))
    if labels is None:
        ax.yaxis.set_major_formatter(FormatStrFormatter(fmt))
    else:
        ax.set_yticklabels(labels)
    ax.xaxis.set_major_locator(MultipleLocator(2))
    ax.xaxis.set_minor_locator(MultipleLocator(1))
    ax.tick_params(axis="y", which="major", direction="out", length=5, width=1.3, labelsize=11.5)
    ax.tick_params(axis="y", which="minor", direction="out", length=3, width=1.0)
    if last:
        ax.tick_params(axis="x", which="major", direction="inout", length=14, width=1.5, labelsize=13, pad=6)
        ax.tick_params(axis="x", which="minor", direction="inout", length=10, width=1.3)
    else:
        ax.tick_params(axis="x", which="major", direction="in", length=8, width=1.5, labelbottom=False)
        ax.tick_params(axis="x", which="minor", direction="in", length=5, width=1.3)


rows = [(537, 718), (718, 897), (897, 1077), (1077, 1256), (1256, 1437)]
rows_d = [(537, 717), (717, 896), (896, 1076), (1076, 1255), (1255, 1434)]

# (c) RbTiBr3 partial DOS
c_ax = [fig.add_axes(box(93, t, 575, b)) for t, b in rows]
pdos(c_ax[0], (c_brp_up_x, c_brp_up_y), (c_brp_dn_x, c_brp_dn_y), "#0b0b80", 0.905, -0.99,
     [-0.9, -0.6, -0.3, 0.0, 0.3, 0.6, 0.9], "%.1f")
pdos(c_ax[1], (c_t2g_up_x, c_t2g_up_y), (c_t2g_dn_x, c_t2g_dn_y), "#ff1010", 3.01, -2.97,
     [-2.7, -1.8, -0.9, 0.0, 0.9, 1.8, 2.7], "%.1f")
pdos(c_ax[2], (c_eg_up_x, c_eg_up_y), (c_eg_dn_x, c_eg_dn_y), "#2ed40e", 1.0, -1.0,
     [-0.8, -0.4, 0.0, 0.4, 0.8], "%.1f")
pdos(c_ax[3], (c_d_up_x, c_d_up_y), (c_d_dn_x, c_d_dn_y), "#1515ee", 2.98, -2.98,
     [-2.7, -1.8, -0.9, 0.0, 0.9, 1.8, 2.7], "%.1f")
pdos(c_ax[4], (c_p_up_x, c_p_up_y), (c_p_dn_x, c_p_dn_y), "#f57ff0", 0.0795, -0.0605,
     [-0.06, -0.03, 0.0, 0.03, 0.06], "%.2f", last=True)
c_ax[0].text(0.207, 0.86, r"Br-$\mathit{p}$", fontsize=14, ha="left", va="center", transform=c_ax[0].transAxes)
c_ax[0].text(0.315, 0.66, "(mBJ)", fontsize=20, ha="left", va="center", transform=c_ax[0].transAxes)
c_ax[0].text(0.668, 0.81, "(c)", color="red", fontsize=19, ha="left", va="center", transform=c_ax[0].transAxes)
c_ax[0].text(0.755, 0.80, r"RbTiBr$_3$", fontsize=19, ha="left", va="center", transform=c_ax[0].transAxes)
c_ax[1].text(0.056, 0.80, r"(Ti -$\mathit{dt}_{\mathrm{2g}}$)", fontsize=15, ha="left", va="center",
             transform=c_ax[1].transAxes)
c_ax[2].text(0.031, 0.86, r"(Ti -$\mathit{d}_{\mathit{eg}}$)", fontsize=15, ha="left", va="center",
             transform=c_ax[2].transAxes)
c_ax[3].text(0.029, 0.87, r"(Ti -$\mathit{d}$)", fontsize=15, ha="left", va="center", transform=c_ax[3].transAxes)
c_ax[4].text(0.046, 0.86, r"(Ti -$\mathit{p}$)", fontsize=15, ha="left", va="center", transform=c_ax[4].transAxes)

# (d) CsTiBr3 partial DOS
d_ax = [fig.add_axes(box(683, t, 1150, b)) for t, b in rows_d]
pdos(d_ax[0], (d_brp_up_x, d_brp_up_y), (d_brp_dn_x, d_brp_dn_y), "#0b0b80", 1.505, -1.73,
     [-1.5, -1.0, -0.5, 0.0, 0.5, 1.0, 1.5], "%.1f")
pdos(d_ax[1], (d_t2g_up_x, d_t2g_up_y), (d_t2g_dn_x, d_t2g_dn_y), "#808000", 4.0, -3.5,
     [-3.0, -2.0, -1.0, 0.0, 1.5, 3.0], None, labels=["-3", "-2", "-1", "0.0", "1.5", "3.0"])
pdos(d_ax[2], (d_eg_up_x, d_eg_up_y), (d_eg_dn_x, d_eg_dn_y), "#ff10ff", 1.49, -1.51,
     [-1.2, -0.8, -0.4, 0.0, 0.4, 0.8, 1.2], "%.1f")
pdos(d_ax[3], (d_d_up_x, d_d_up_y), (d_d_dn_x, d_d_dn_y), "#1515ee", 4.0, -4.0,
     [-3.0, -1.5, 0.0, 1.5, 3.0], "%.1f")
pdos(d_ax[4], (d_p_up_x, d_p_up_y), (d_p_dn_x, d_p_dn_y), "#ff1010", 0.099, -0.0805,
     [-0.08, -0.04, 0.0, 0.04, 0.08], "%.2f", last=True)
d_ax[1].yaxis.set_minor_locator(FixedLocator([-3.5, -2.5, -1.5, -0.5, 0.75, 2.25, 3.75]))
d_ax[0].text(0.218, 0.88, r"Br-$\mathit{p}$", fontsize=14, ha="left", va="center", transform=d_ax[0].transAxes)
d_ax[0].text(0.293, 0.62, "(mBJ)", fontsize=20, ha="left", va="center", transform=d_ax[0].transAxes)
d_ax[0].text(0.70, 0.81, "(d)", color="red", fontsize=19, ha="left", va="center", transform=d_ax[0].transAxes)
d_ax[0].text(0.797, 0.80, r"CsTiBr$_3$", fontsize=19, ha="left", va="center", transform=d_ax[0].transAxes)
d_ax[1].text(0.036, 0.86, r"(Ti -$\mathit{dt}_{\mathrm{2g}}$)", fontsize=15, ha="left", va="center",
             transform=d_ax[1].transAxes)
d_ax[2].text(0.043, 0.86, r"(Ti -$\mathit{d}_{\mathit{eg}}$)", fontsize=15, ha="left", va="center",
             transform=d_ax[2].transAxes)
d_ax[3].text(0.062, 0.83, r"(Ti -$\mathit{d}$)", fontsize=15, ha="left", va="center", transform=d_ax[3].transAxes)
d_ax[4].text(0.07, 0.84, r"(Ti -$\mathit{p}$)", fontsize=15, ha="left", va="center", transform=d_ax[4].transAxes)

for xl in (28, 614):
    fig.text(xl / W, 1 - 1022 / H, "DOS (States/eV)", rotation=90, fontsize=21, ha="center", va="center",
             family="Liberation Sans", fontweight="bold")
fig.text(331 / W, 1 - 1505 / H, "Energy (eV)", fontsize=15, ha="center", va="center")
fig.text(916 / W, 1 - 1503 / H, "Energy (eV)", fontsize=15, ha="center", va="center")

fig.savefig("out.png", dpi=100)
